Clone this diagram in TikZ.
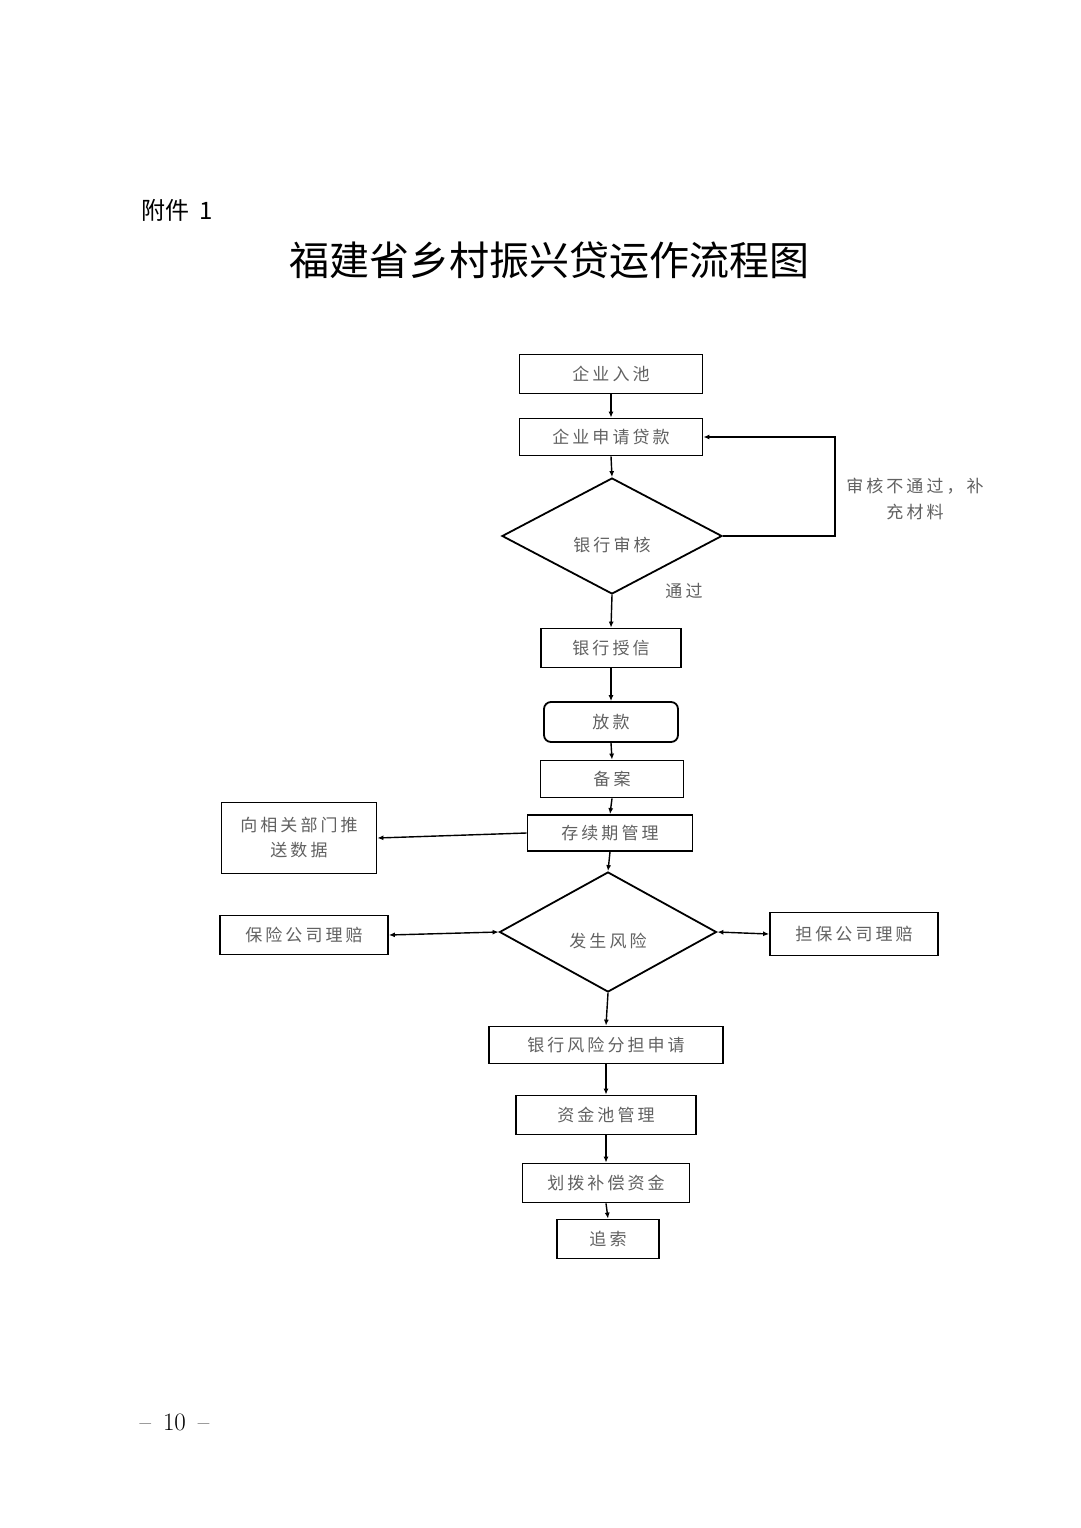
\documentclass[tikz,border=0pt]{standalone}
\usepackage{fontspec}
\newfontfamily\cjk{Noto Sans CJK SC}
\newfontfamily\cjkbox[LetterSpace=18]{Noto Sans CJK SC}
\usetikzlibrary{shapes.geometric,arrows.meta}
\tikzset{
  box/.style={draw=black,line width=1.8pt,inner sep=0pt,text=black!62,
    font=\cjkbox\fontsize{17pt}{25pt}\selectfont,align=center},
  choice/.style={box,shape=diamond},
  arr/.style={line width=1.4pt,-{Latex[length=6pt,width=5pt]}},
  darr/.style={line width=1.4pt,{Latex[length=6pt,width=5pt]}-{Latex[length=6pt,width=5pt]}},
  lbl/.style={text=black!62,font=\cjkbox\fontsize{17pt}{26pt}\selectfont,align=center}
}
\newcommand{\lowtext}[1]{\raisebox{-15pt}[0pt][0pt]{#1}}
\begin{document}
\begin{tikzpicture}[x=1pt,y=-1pt]
                % page
                \useasboundingbox[fill=white] (0,0) rectangle (1080,1528);
                % heading
                \node[anchor=west,font=\cjk\fontsize{24pt}{28pt}\selectfont] (att) at (138,210) {附件\hspace{10pt}1};
                \node[font=\cjk\fontsize{40pt}{44pt}\selectfont] (title) at (549,260) {福建省乡村振兴贷运作流程图};
                % main column
                \node[box,minimum width=183pt,minimum height=39pt] (pool) at (611,374) {企业入池};
                \node[box,minimum width=183pt,minimum height=37pt] (apply) at (611,437) {企业申请贷款};
                \node[choice,minimum width=220pt,minimum height=116pt] (audit) at (612,536) {\lowtext{银行审核}};
                \node[box,minimum width=140pt,minimum height=39pt] (credit) at (611,648) {银行授信};
                \node[box,rounded corners=7pt,minimum width=134pt,minimum height=40pt] (loan) at (611,722) {放款};
                \node[box,minimum width=143pt,minimum height=37pt] (record) at (612,779) {备案};
                \node[box,minimum width=165pt,minimum height=36pt] (manage) at (610,833) {存续期管理};
                \node[choice,minimum width=217pt,minimum height=120pt] (risk) at (608,932) {\lowtext{发生风险}};
                \node[box,minimum width=234pt,minimum height=37pt] (share) at (606,1045) {银行风险分担申请};
                \node[box,minimum width=180pt,minimum height=39pt] (fund) at (606,1115) {资金池管理};
                \node[box,minimum width=167pt,minimum height=39pt] (pay) at (606,1183) {划拨补偿资金};
                \node[box,minimum width=102pt,minimum height=39pt] (recover) at (608,1239) {追索};
                % side boxes
                \node[box,minimum width=155pt,minimum height=71pt] (push) at (299,838) {向相关部门推\\送数据};
                \node[box,minimum width=168pt,minimum height=39pt] (insure) at (304,935) {保险公司理赔};
                \node[box,minimum width=168pt,minimum height=43pt] (guar) at (854,934) {担保公司理赔};
                % labels
                \node[lbl] (fail) at (915,499) {审核不通过，补\\充材料};
                \node[lbl] (pass) at (684,591) {通过};
                % connectors
                \coordinate (back) at (835,437);
                \draw[arr] (pool.south) -- (apply.north);
                \draw[arr] (apply.south) -- (audit.north);
                \draw[arr] (audit.east) -| (back) -- (apply.east);
                \draw[arr] (audit.south) -- (credit.north);
                \draw[arr] (credit.south) -- (loan.north);
                \draw[arr] (loan.south) -- (record.north);
                \draw[arr] (record.south) -- (manage.north);
                \draw[arr] (manage.west) -- (push.east);
                \draw[arr] (manage.south) -- (risk.north);
                \draw[darr] (insure.east) -- (risk.west);
                \draw[darr] (risk.east) -- (guar.west);
                \draw[arr] (risk.south) -- (share.north);
                \draw[arr] (share.south) -- (fund.north);
                \draw[arr] (fund.south) -- (pay.north);
                \draw[arr] (pay.south) -- (recover.north);
                % page number
                \node[anchor=west,font=\fontsize{25pt}{28pt}\selectfont] (pagenum) at (136,1422) {--\hspace{12pt}10\hspace{12pt}--};
\end{tikzpicture}
\end{document}
